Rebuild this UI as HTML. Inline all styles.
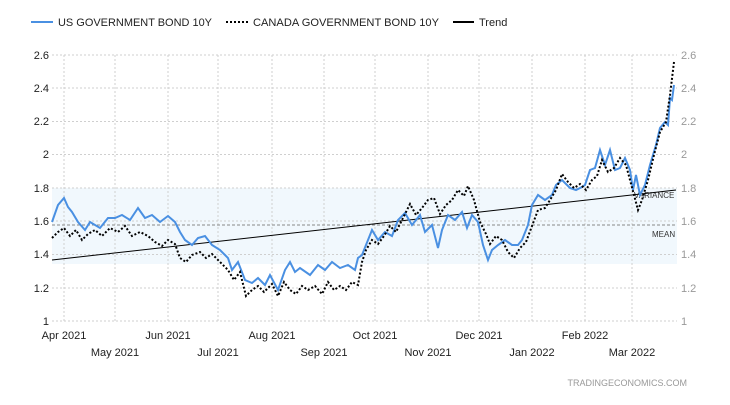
<!DOCTYPE html>
<html><head><meta charset="utf-8"><style>
body{margin:0;background:#fff;font-family:"Liberation Sans",sans-serif}
</style></head><body>
<svg width="730" height="400" xmlns="http://www.w3.org/2000/svg" font-family="Liberation Sans, sans-serif">
<rect width="730" height="400" fill="#fff"/>
<rect x="52" y="188" width="625" height="76" fill="#eef6fd" opacity="0.8"/>
<g stroke="#cfcfcf" stroke-dasharray="2,2" stroke-width="1">
<line x1="52" x2="677" y1="55" y2="55"/><line x1="52" x2="677" y1="88" y2="88"/><line x1="52" x2="677" y1="121.5" y2="121.5"/><line x1="52" x2="677" y1="154.5" y2="154.5"/><line x1="52" x2="677" y1="188" y2="188"/><line x1="52" x2="677" y1="221" y2="221"/><line x1="52" x2="677" y1="254.5" y2="254.5"/><line x1="52" x2="677" y1="288" y2="288"/><line x1="52" x2="677" y1="321" y2="321"/>
<line x1="64" x2="64" y1="55" y2="321"/><line x1="115" x2="115" y1="55" y2="321"/><line x1="168" x2="168" y1="55" y2="321"/><line x1="218" x2="218" y1="55" y2="321"/><line x1="272" x2="272" y1="55" y2="321"/><line x1="324" x2="324" y1="55" y2="321"/><line x1="375" x2="375" y1="55" y2="321"/><line x1="428" x2="428" y1="55" y2="321"/><line x1="479" x2="479" y1="55" y2="321"/><line x1="532" x2="532" y1="55" y2="321"/><line x1="585" x2="585" y1="55" y2="321"/><line x1="632" x2="632" y1="55" y2="321"/>
</g>
<line x1="52" x2="677" y1="225" y2="225" stroke="#888" stroke-dasharray="3,2"/>
<text x="652" y="237" font-size="8" fill="#333">MEAN</text>
<text x="634" y="198" font-size="8" fill="#333">VARIANCE</text>
<g font-size="11" fill="#222" text-anchor="end">
<text x="49" y="59">2.6</text><text x="49" y="92">2.4</text><text x="49" y="125">2.2</text><text x="49" y="158">2</text><text x="49" y="192">1.8</text><text x="49" y="225">1.6</text><text x="49" y="258">1.4</text><text x="49" y="292">1.2</text><text x="49" y="325">1</text>
</g>
<g font-size="11" fill="#999">
<text x="681" y="59">2.6</text><text x="681" y="92">2.4</text><text x="681" y="125">2.2</text><text x="681" y="158">2</text><text x="681" y="192">1.8</text><text x="681" y="225">1.6</text><text x="681" y="258">1.4</text><text x="681" y="292">1.2</text><text x="681" y="325">1</text>
</g>
<g font-size="11" fill="#222" text-anchor="middle">
<text x="64" y="339">Apr 2021</text><text x="168" y="339">Jun 2021</text><text x="272" y="339">Aug 2021</text><text x="375" y="339">Oct 2021</text><text x="479" y="339">Dec 2021</text><text x="585" y="339">Feb 2022</text>
<text x="115" y="356">May 2021</text><text x="218" y="356">Jul 2021</text><text x="324" y="356">Sep 2021</text><text x="428" y="356">Nov 2021</text><text x="532" y="356">Jan 2022</text><text x="632" y="356">Mar 2022</text>
</g>
<text x="687" y="386" font-size="9" fill="#999" text-anchor="end">TRADINGECONOMICS.COM</text>
<line x1="52" y1="260" x2="676" y2="190" stroke="#000" stroke-width="1"/>
<polyline fill="none" stroke="#4a90e2" stroke-width="2" points="52,222 58,205 64,198 68,207 72,212 78,222 85,230 90,222 100,228 108,218 115,218 122,215 130,220 138,208 145,218 152,215 160,222 168,216 175,222 180,232 185,240 192,245 198,238 205,236 212,245 220,250 228,258 232,270 238,262 245,280 252,283 258,278 265,285 270,275 278,290 285,270 290,262 295,272 300,268 310,275 318,265 325,270 332,262 340,268 348,265 355,270 358,258 362,255 368,240 372,230 378,240 385,232 392,236 398,220 405,213 412,225 420,215 425,232 432,225 438,248 442,230 448,215 455,220 462,212 467,228 472,215 478,222 483,245 488,260 492,250 498,245 505,240 512,245 518,245 522,240 528,225 532,205 538,195 545,200 552,195 556,185 562,180 570,188 576,190 582,187 585,185 590,170 595,168 600,150 605,165 610,150 615,170 620,168 625,158 630,170 633,190 636,175 640,195 645,185 650,165 656,145 660,128 665,122 668,125 670,98 672,100 674,85"/>
<polyline fill="none" stroke="#000" stroke-width="2" stroke-dasharray="2,2" points="52,238 58,232 64,228 70,236 76,230 82,240 88,234 95,230 102,236 110,228 118,232 125,226 132,236 140,232 148,236 155,242 162,246 168,240 175,244 180,258 186,262 192,255 200,252 206,258 212,254 220,262 228,270 234,280 240,272 246,296 252,290 258,286 264,292 272,284 278,296 284,282 290,290 296,294 302,286 308,290 315,286 322,294 328,282 334,290 340,286 346,290 352,282 358,285 362,262 366,250 372,240 378,244 384,236 390,226 396,232 402,220 410,204 416,215 422,208 428,200 434,198 440,214 446,205 452,200 458,190 464,196 468,186 474,200 480,222 486,234 490,244 496,236 502,240 508,252 514,258 520,248 526,242 532,226 538,210 545,208 550,200 556,190 562,174 568,182 574,188 580,184 586,190 592,180 597,176 602,160 608,172 614,168 620,158 626,165 630,180 634,195 638,210 642,200 648,180 654,155 660,132 666,122 670,95 674,62"/>
<line x1="31" y1="22" x2="53" y2="22" stroke="#4a90e2" stroke-width="2"/>
<text x="58" y="26" font-size="11" fill="#222" textLength="154" lengthAdjust="spacingAndGlyphs">US GOVERNMENT BOND 10Y</text>
<line x1="226" y1="22" x2="248" y2="22" stroke="#000" stroke-width="2" stroke-dasharray="2,2"/>
<text x="253" y="26" font-size="11" fill="#222" textLength="186" lengthAdjust="spacingAndGlyphs">CANADA GOVERNMENT BOND 10Y</text>
<line x1="453" y1="22" x2="474" y2="22" stroke="#000" stroke-width="2"/>
<text x="479" y="26" font-size="11" fill="#222">Trend</text>
</svg>
</body></html>
